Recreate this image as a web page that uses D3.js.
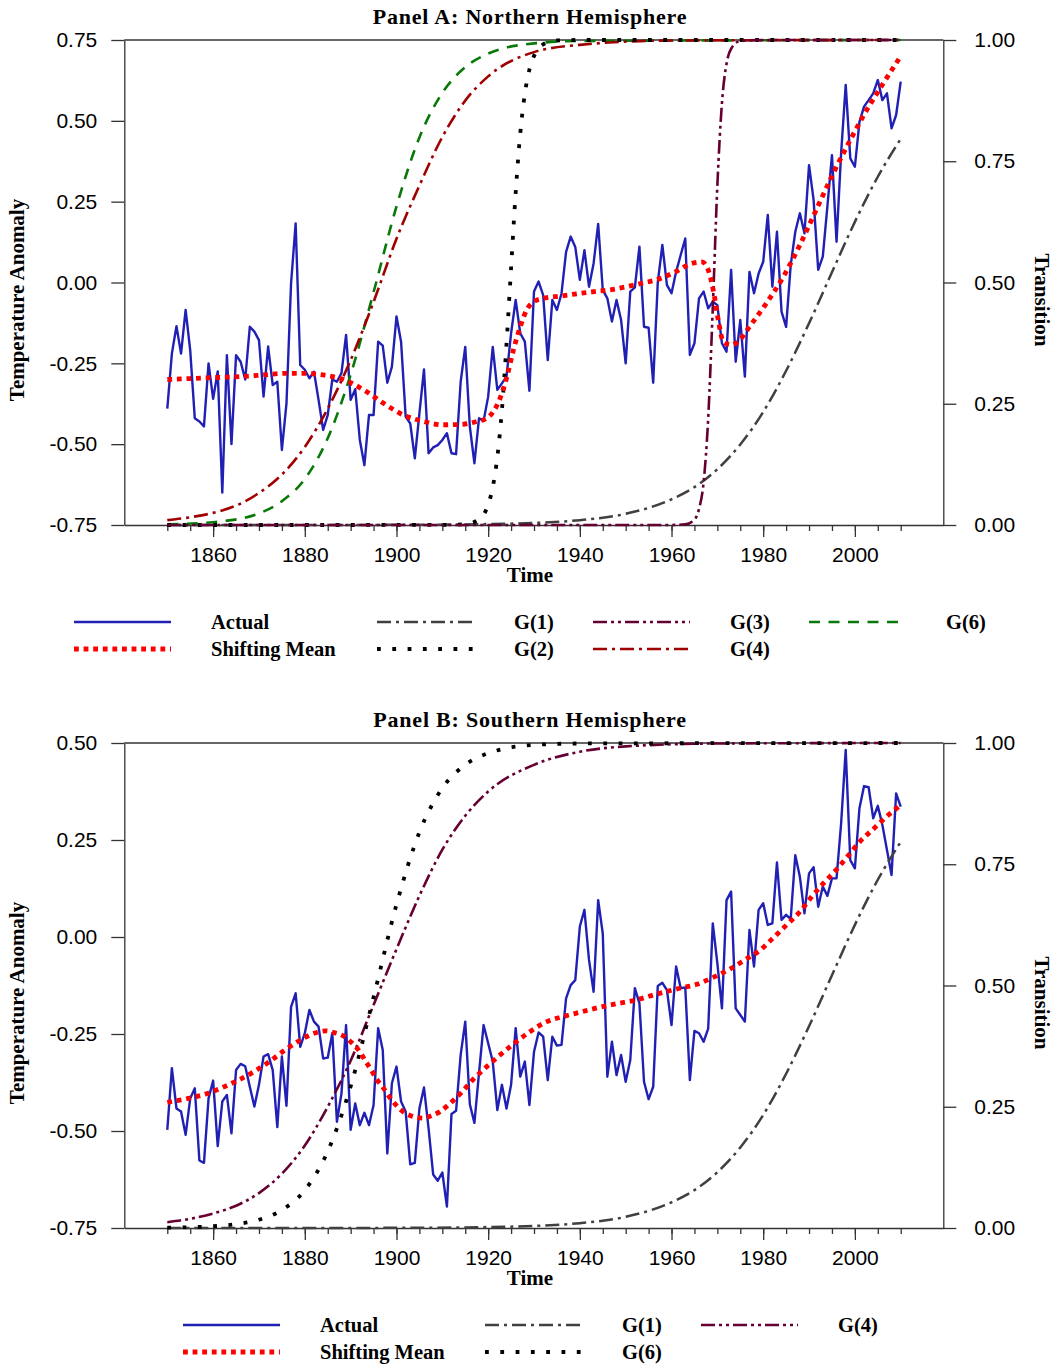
<!DOCTYPE html>
<html><head><meta charset="utf-8">
<script src="https://cdn.jsdelivr.net/npm/d3@7"></script>
<style>body{margin:0;background:#fff}svg{display:block}</style>
</head><body>
<svg id="chart" width="1058" height="1368"></svg>
<script>
// ---------------- DATA ----------------
const startYear = 1850;
const xTickLabels = [1860, 1880, 1900, 1920, 1940, 1960, 1980, 2000];
const xMinorTicks = [1850,1855,1860,1865,1870,1875,1880,1885,1890,1895,1900,1905,1910,1915,1920,1925,1930,1935,1940,1945,1950,1955,1960,1965,1970,1975,1980,1985,1990,1995,2000,2005,2010];
const yTicksA = [-0.75, -0.5, -0.25, 0, 0.25, 0.5, 0.75];
const yTicksB = [-0.75, -0.5, -0.25, 0, 0.25, 0.5];
const transTicks = [0, 0.25, 0.5, 0.75, 1.0];

// Panel A: Northern Hemisphere annual anomalies 1850-2010
const nhActual = [
-0.39,-0.22,-0.135,-0.22,-0.085,-0.21,-0.42,-0.43,-0.445,-0.25,
-0.36,-0.275,-0.65,-0.225,-0.50,-0.225,-0.245,-0.30,-0.137,-0.152,
-0.178,-0.353,-0.198,-0.317,-0.307,-0.518,-0.374,-0.003,0.183,-0.255,
-0.27,-0.296,-0.276,-0.363,-0.456,-0.41,-0.30,-0.307,-0.28,-0.162,
-0.363,-0.33,-0.487,-0.565,-0.41,-0.41,-0.183,-0.195,-0.31,-0.26,
-0.105,-0.183,-0.415,-0.436,-0.544,-0.405,-0.269,-0.528,-0.51,-0.503,
-0.487,-0.466,-0.528,-0.531,-0.307,-0.199,-0.446,-0.559,-0.42,-0.428,
-0.353,-0.199,-0.332,-0.312,-0.291,-0.157,-0.054,-0.157,-0.183,-0.335,
-0.028,0.003,-0.039,-0.24,-0.054,-0.085,-0.034,0.095,0.142,0.11,
0.008,0.10,-0.013,0.059,0.181,-0.023,-0.049,-0.121,-0.054,-0.116,
-0.25,-0.028,-0.015,0.111,-0.137,-0.14,-0.31,0.0,0.116,-0.008,
-0.033,0.033,0.085,0.136,-0.224,-0.188,-0.049,-0.028,-0.08,-0.059,
-0.07,-0.188,-0.214,0.039,-0.245,-0.116,-0.291,0.033,-0.033,0.028,
0.064,0.209,-0.013,0.157,-0.09,-0.137,0.054,0.157,0.214,0.152,
0.363,0.255,0.039,0.08,0.235,0.394,0.126,0.40,0.611,0.384,
0.358,0.497,0.544,0.564,0.585,0.626,0.564,0.585,0.477,0.518,
0.621];

// Panel B: Southern Hemisphere annual anomalies 1850-2010
const shActual = [
-0.497,-0.338,-0.442,-0.45,-0.51,-0.416,-0.39,-0.576,-0.582,-0.416,
-0.37,-0.539,-0.424,-0.407,-0.506,-0.343,-0.327,-0.333,-0.386,-0.437,
-0.381,-0.308,-0.302,-0.343,-0.49,-0.308,-0.435,-0.18,-0.145,-0.283,
-0.248,-0.188,-0.218,-0.231,-0.313,-0.311,-0.248,-0.476,-0.403,-0.227,
-0.497,-0.429,-0.485,-0.453,-0.485,-0.433,-0.235,-0.291,-0.558,-0.377,
-0.334,-0.424,-0.45,-0.586,-0.582,-0.442,-0.388,-0.493,-0.612,-0.628,
-0.607,-0.695,-0.456,-0.448,-0.304,-0.218,-0.431,-0.479,-0.351,-0.227,
-0.274,-0.321,-0.446,-0.381,-0.442,-0.381,-0.235,-0.36,-0.321,-0.433,
-0.296,-0.246,-0.257,-0.369,-0.257,-0.28,-0.278,-0.158,-0.124,-0.111,
0.027,0.07,-0.059,-0.141,0.095,0.009,-0.36,-0.27,-0.356,-0.304,
-0.373,-0.317,-0.132,-0.171,-0.373,-0.418,-0.386,-0.126,-0.118,-0.137,
-0.227,-0.076,-0.132,-0.13,-0.369,-0.242,-0.248,-0.27,-0.236,0.035,
-0.068,-0.184,0.095,0.117,-0.184,-0.201,-0.218,0.018,-0.076,0.07,
0.087,0.031,0.035,0.192,0.044,0.057,0.046,0.211,0.155,0.061,
0.164,0.18,0.078,0.13,0.106,0.151,0.151,0.293,0.482,0.198,
0.177,0.332,0.389,0.386,0.306,0.338,0.289,0.224,0.16,0.37,
0.336];

// Shifting means ([year, value])
const nhMean = [[1850,-0.30],[1855,-0.297],[1860,-0.294],[1866,-0.291],[1870,-0.287],[1876,-0.281],[1880,-0.281],[1884,-0.286],[1888,-0.298],[1890,-0.31],[1893.5,-0.338],[1897,-0.372],[1902,-0.413],[1906,-0.43],[1910,-0.44],[1914,-0.439],[1917.5,-0.43],[1919.7,-0.42],[1921.1,-0.40],[1922.6,-0.358],[1924.1,-0.291],[1925.5,-0.209],[1927,-0.137],[1928.4,-0.085],[1930,-0.059],[1932,-0.049],[1935.7,-0.042],[1941.5,-0.031],[1947.3,-0.021],[1953,-0.004],[1957.5,0.012],[1961,0.034],[1964,0.057],[1966.6,0.064],[1968,0.039],[1969.1,-0.023],[1970.2,-0.116],[1971.3,-0.183],[1973.1,-0.193],[1975,-0.176],[1977,-0.137],[1980.7,-0.064],[1984.4,0.018],[1988,0.116],[1991.7,0.229],[1995.3,0.338],[1999,0.441],[2002.6,0.534],[2006.2,0.616],[2010,0.70]];
const shMean = [[1850,-0.426],[1854.6,-0.416],[1858.3,-0.405],[1862,-0.388],[1865.5,-0.369],[1869.2,-0.345],[1872.4,-0.32],[1875.7,-0.291],[1879.1,-0.265],[1882.6,-0.246],[1884.6,-0.242],[1886.6,-0.247],[1888.4,-0.255],[1890.1,-0.271],[1891.7,-0.291],[1893.3,-0.321],[1894.6,-0.345],[1895.7,-0.367],[1897,-0.387],[1899.1,-0.422],[1902.2,-0.456],[1905.9,-0.467],[1907.7,-0.46],[1909.5,-0.45],[1911.3,-0.433],[1914,-0.403],[1916.8,-0.366],[1919.7,-0.334],[1922.6,-0.304],[1925.9,-0.272],[1929.1,-0.244],[1932.8,-0.218],[1936.4,-0.205],[1940,-0.194],[1944,-0.182],[1948,-0.172],[1952,-0.163],[1956.8,-0.147],[1961.8,-0.132],[1965.5,-0.122],[1969.1,-0.104],[1972.7,-0.083],[1976,-0.059],[1979.3,-0.034],[1982.3,-0.001],[1985.1,0.031],[1988,0.065],[1990.6,0.104],[1993.1,0.138],[1996,0.174],[1998.5,0.209],[2001.1,0.246],[2004,0.278],[2006.9,0.31],[2010,0.34]];

// Transition functions ([year, value])
const gA1 = [[1850,0],[1900,0.0003],[1920,0.0019],[1930,0.0043],[1940,0.010],[1950,0.023],[1960,0.053],[1965,0.078],[1970,0.115],[1975,0.166],[1980,0.233],[1985,0.318],[1990,0.416],[1995,0.521],[2000,0.625],[2005,0.718],[2010,0.796]];
const gA2 = [[1850,0],[1910,0.0001],[1915,0.0017],[1918,0.012],[1920,0.042],[1921,0.078],[1922,0.14],[1923,0.237],[1924,0.373],[1925,0.53],[1926,0.685],[1927,0.807],[1928,0.889],[1929,0.939],[1930,0.967],[1932,0.991],[1935,0.999],[1940,1],[2010,1]];
const gA3 = [[1850,0],[1960,0.0001],[1963,0.0014],[1965,0.011],[1966,0.033],[1967,0.088],[1968,0.22],[1969,0.447],[1970,0.70],[1971,0.87],[1972,0.951],[1973,0.982],[1975,0.998],[1980,1],[2010,1]];
const gA4 = [[1850,0.010],[1855,0.016],[1860,0.025],[1865,0.040],[1870,0.066],[1875,0.104],[1880,0.161],[1885,0.24],[1890,0.34],[1895,0.46],[1900,0.59],[1905,0.70],[1910,0.80],[1915,0.875],[1920,0.925],[1930,0.975],[1940,0.99],[1960,0.999],[2010,1]];
const gA6 = [[1850,0.0014],[1860,0.0058],[1870,0.024],[1875,0.049],[1880,0.095],[1885,0.179],[1890,0.31],[1895,0.48],[1900,0.657],[1905,0.799],[1910,0.891],[1915,0.944],[1920,0.972],[1930,0.993],[1940,0.998],[2010,1]];
const gB1 = [[1850,0],[1900,0.0003],[1920,0.0019],[1930,0.0043],[1940,0.010],[1950,0.023],[1960,0.053],[1965,0.078],[1970,0.115],[1975,0.166],[1980,0.233],[1985,0.318],[1990,0.416],[1995,0.521],[2000,0.625],[2005,0.718],[2010,0.796]];
const gB4 = [[1850,0.012],[1855,0.019],[1860,0.03],[1865,0.046],[1870,0.072],[1875,0.112],[1880,0.17],[1885,0.25],[1890,0.345],[1895,0.46],[1900,0.575],[1905,0.685],[1910,0.78],[1915,0.85],[1920,0.90],[1930,0.955],[1940,0.982],[1950,0.993],[1970,0.999],[2010,1]];
const gB6 = [[1850,0.0007],[1860,0.0036],[1865,0.0079],[1870,0.017],[1875,0.037],[1880,0.078],[1885,0.158],[1890,0.292],[1895,0.476],[1900,0.667],[1905,0.816],[1910,0.907],[1915,0.955],[1920,0.979],[1930,0.996],[1940,0.999],[2010,1]];

const titles = ["Panel A: Northern Hemisphere", "Panel B: Southern Hemisphere"];
const legendLabelsA = ["Actual", "Shifting Mean", "G(1)", "G(2)", "G(3)", "G(4)", "G(6)"];
const legendLabelsB = ["Actual", "Shifting Mean", "G(1)", "G(6)", "G(4)"];

// ---------------- STYLES ----------------
const ST = {
  actual: {stroke: "#2020b4", width: 2.4, dash: null},
  mean:   {stroke: "#ff0000", width: 4.8, dash: "4.8,4.8"},
  g1:     {stroke: "#404040", width: 2.5, dash: "14,5,3,5"},
  dots:   {stroke: "#000000", width: 3.8, dash: "3.8,11.5"},
  purple: {stroke: "#660033", width: 2.6, dash: "14,4,3,4,3,4"},
  darkred:{stroke: "#a00000", width: 2.6, dash: "14,5,3,5"},
  green:  {stroke: "#087808", width: 2.6, dash: "11,8.5"}
};
const SERIF = "'Liberation Serif','Times New Roman',serif";
const SANS = "'Liberation Sans',Arial,Helvetica,sans-serif";

const svg = d3.select("#chart");
const L = 124.3, R = 943.3;
const xDomain = [1840.62, 2019.29];

function styleLine(sel, s) {
  sel.attr("fill", "none").attr("stroke", s.stroke).attr("stroke-width", s.width)
     .attr("stroke-linejoin", "round");
  if (s.dash) sel.attr("stroke-dasharray", s.dash);
  return sel;
}

function drawPanel(o) {
  const g = svg.append("g");
  const x = d3.scaleLinear().domain(xDomain).range([L, R]);
  const y = d3.scaleLinear().domain(o.yDomain).range([o.bottom, o.top]);
  const yR = d3.scaleLinear().domain([0, 1]).range([o.bottom, o.top]);

  g.append("line").attr("x1", L).attr("x2", R).attr("y1", o.top).attr("y2", o.top)
    .attr("stroke", "#333").attr("stroke-width", 1.3);

  const axL = g.append("g").attr("transform", `translate(${L},0)`)
    .call(d3.axisLeft(y).tickValues(o.yTicks).tickFormat(v => v.toFixed(2)).tickSize(13).tickSizeOuter(0).tickPadding(14));
  const axR = g.append("g").attr("transform", `translate(${R},0)`)
    .call(d3.axisRight(yR).tickValues(transTicks).tickFormat(v => v.toFixed(2)).tickSize(13).tickSizeOuter(0).tickPadding(18));
  const axBm = g.append("g").attr("transform", `translate(0,${o.bottom})`)
    .call(d3.axisBottom(x).tickValues(xMinorTicks).tickFormat("").tickSize(6).tickSizeOuter(0));
  const axB = g.append("g").attr("transform", `translate(0,${o.bottom})`)
    .call(d3.axisBottom(x).tickValues(xTickLabels).tickFormat(d3.format("d")).tickSize(12).tickSizeOuter(0).tickPadding(10));
  [axL, axR, axBm, axB].forEach(a => {
    a.attr("color", "#333");
    a.selectAll("path,line").attr("stroke-width", 1.3);
    a.selectAll("text").attr("font-family", SANS).attr("font-size", 21).attr("fill", "#000");
  });
  axBm.select("path").remove();

  g.append("text").attr("x", 530).attr("y", o.top - 16).attr("text-anchor", "middle")
    .attr("font-family", SERIF).attr("font-weight", "bold").attr("font-size", 22)
    .attr("letter-spacing", 0.8).text(o.title);
  g.append("text").attr("x", 530).attr("y", o.bottom + 57).attr("text-anchor", "middle")
    .attr("font-family", SERIF).attr("font-weight", "bold").attr("font-size", 21).text("Time");
  g.append("text").attr("transform", `translate(24,${o.top + 260}) rotate(-90)`).attr("text-anchor", "middle")
    .attr("font-family", SERIF).attr("font-weight", "bold").attr("font-size", 21).text("Temperature Anomaly");
  g.append("text").attr("transform", `translate(1035,${o.top + 260}) rotate(90)`).attr("text-anchor", "middle")
    .attr("font-family", SERIF).attr("font-weight", "bold").attr("font-size", 21).text("Transition");

  const plot = g.append("g");
  const lineActual = d3.line().x((d, i) => x(startYear + i)).y(d => y(d));
  styleLine(plot.append("path").attr("d", lineActual(o.actual)), ST.actual);

  const lineG = d3.line().x(d => x(d[0])).y(d => yR(d[1])).curve(d3.curveMonotoneX);
  o.gs.forEach(gg => styleLine(plot.append("path").attr("d", lineG(gg.data)), gg.style));

  const lineM = d3.line().x(d => x(d[0])).y(d => y(d[1])).curve(d3.curveMonotoneX);
  styleLine(plot.append("path").attr("d", lineM(o.mean)), ST.mean).attr("stroke-linejoin", "miter");

  const lg = g.append("g");
  o.legend.forEach(it => {
    const ly = o.legendY + it.row * 27;
    styleLine(lg.append("line").attr("x1", it.x).attr("x2", it.x + 97).attr("y1", ly).attr("y2", ly), it.style);
    lg.append("text").attr("x", it.x + 137).attr("y", ly + 7)
      .attr("font-family", SERIF).attr("font-weight", "bold").attr("font-size", 20.5).text(it.label);
  });
}

drawPanel({
  top: 40, bottom: 525, yDomain: [-0.75, 0.75], yTicks: yTicksA, title: titles[0],
  actual: nhActual, mean: nhMean,
  gs: [{data: gA1, style: ST.g1}, {data: gA6, style: ST.green}, {data: gA4, style: ST.darkred},
       {data: gA2, style: ST.dots}, {data: gA3, style: ST.purple}],
  legendY: 622,
  legend: [
    {x: 74, row: 0, style: ST.actual, label: legendLabelsA[0]},
    {x: 74, row: 1, style: ST.mean, label: legendLabelsA[1]},
    {x: 377, row: 0, style: ST.g1, label: legendLabelsA[2]},
    {x: 377, row: 1, style: ST.dots, label: legendLabelsA[3]},
    {x: 593, row: 0, style: ST.purple, label: legendLabelsA[4]},
    {x: 593, row: 1, style: ST.darkred, label: legendLabelsA[5]},
    {x: 809, row: 0, style: ST.green, label: legendLabelsA[6]}
  ]
});

drawPanel({
  top: 743, bottom: 1228, yDomain: [-0.75, 0.5], yTicks: yTicksB, title: titles[1],
  actual: shActual, mean: shMean,
  gs: [{data: gB1, style: ST.g1}, {data: gB4, style: ST.purple}, {data: gB6, style: ST.dots}],
  legendY: 1325,
  legend: [
    {x: 183, row: 0, style: ST.actual, label: legendLabelsB[0]},
    {x: 183, row: 1, style: ST.mean, label: legendLabelsB[1]},
    {x: 485, row: 0, style: ST.g1, label: legendLabelsB[2]},
    {x: 485, row: 1, style: ST.dots, label: legendLabelsB[3]},
    {x: 701, row: 0, style: ST.purple, label: legendLabelsB[4]}
  ]
});
</script>
</body></html>
